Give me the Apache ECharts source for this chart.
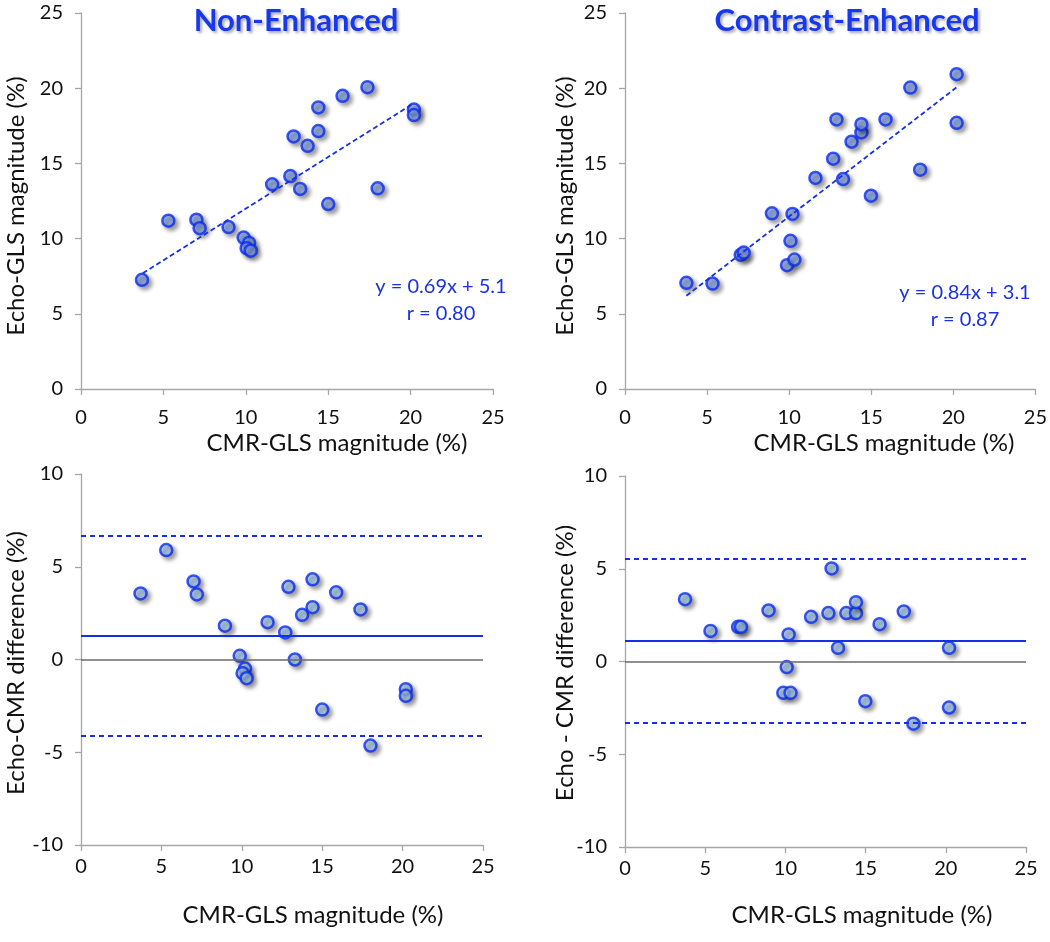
<!DOCTYPE html>
<html>
<head>
<meta charset="utf-8">
<script src="https://cdn.jsdelivr.net/npm/echarts@6.0.0/dist/echarts.min.js"></script>
<style>
  html, body { margin: 0; padding: 0; background: #fff; }
  #glsChart { width: 1050px; height: 942px; }
</style>
</head>
<body>
<div id="glsChart"></div>
<script>
// Non-enhanced echo vs CMR
const cmrNE = [3.7, 5.3, 7.0, 7.2, 8.95, 9.87, 10.2, 10.05, 10.3, 11.6, 12.7, 13.3, 12.9, 13.75, 14.4, 14.4, 15.0, 15.87, 17.38, 18.0, 20.2, 20.2];
const echoNE = [7.26, 11.19, 11.26, 10.69, 10.77, 10.07, 9.71, 9.36, 9.2, 13.61, 14.16, 13.3, 16.79, 16.17, 17.15, 18.72, 12.3, 19.49, 20.07, 13.34, 18.58, 18.21];
const diffNE = [3.56, 5.9, 4.21, 3.51, 1.82, 0.2, -0.49, -0.74, -1.01, 2.01, 1.46, 0.0, 3.92, 2.41, 2.82, 4.32, -2.7, 3.62, 2.7, -4.64, -1.6, -1.96];

// Contrast-enhanced echo vs CMR
const cmrCE = [3.74, 5.33, 7.05, 7.23, 8.95, 10.2, 10.08, 9.87, 10.32, 11.6, 12.68, 13.28, 12.88, 13.8, 14.4, 14.4, 14.98, 15.87, 17.38, 17.98, 20.2, 20.2];
const echoCE = [7.06, 7.01, 8.92, 9.07, 11.68, 11.64, 9.85, 8.23, 8.61, 14.03, 15.31, 13.96, 17.92, 16.44, 17.06, 17.61, 12.85, 17.92, 20.04, 14.58, 20.93, 17.7];
const diffCE = [3.36, 1.65, 1.87, 1.87, 2.75, 1.46, -0.3, -1.69, -1.69, 2.41, 2.61, 0.74, 5.02, 2.61, 2.61, 3.2, -2.14, 2.01, 2.7, -3.35, 0.74, -2.48];

// regression line end points
const trendNE = [[3.75, 7.7], [20.2, 19.0]];
const trendCE = [[3.74, 6.2], [20.25, 20.1]];

// Bland-Altman: [mean, upper LoA, lower LoA]
const baNE = [1.28, 6.65, -4.12];
const baCE = [1.13, 5.52, -3.29];

const panelTitles = ['Non-Enhanced', 'Contrast-Enhanced'];
const eqTexts = [['y = 0.69x + 5.1', 'r = 0.80'], ['y = 0.84x + 3.1', 'r = 0.87']];

const FONT = 'Lato, "Open Sans", sans-serif';
const BLUE = '#1430e6';
const EDGE = '#0a2cf0';

function pairs(xs, ys) {
  return xs.map((x, i) => [x, ys[i]]);
}

function markerStyle(fill) {
  return {
    color: fill,
    borderColor: EDGE,
    borderWidth: 2.5,
    shadowBlur: 4,
    shadowColor: 'rgba(0,0,0,0.45)',
    shadowOffsetX: 3,
    shadowOffsetY: 3
  };
}

function xAx(idx) {
  return {
    gridIndex: idx, type: 'value', min: 0, max: 25, interval: 5,
    splitLine: { show: false },
    axisLine: { onZero: false, lineStyle: { color: '#a6a6a6', width: 1.3 } },
    axisTick: { show: true, length: 6, lineStyle: { color: '#a6a6a6', width: 1.3 } },
    axisLabel: { color: '#111', fontFamily: FONT, fontSize: 20, margin: idx < 2 ? 19 : 12 }
  };
}

function yAx(idx, min, max) {
  return {
    gridIndex: idx, type: 'value', min: min, max: max, interval: 5,
    splitLine: { show: false },
    axisLine: { show: true, onZero: false, lineStyle: { color: '#a6a6a6', width: 1.3 } },
    axisTick: { show: true, length: 6, lineStyle: { color: '#a6a6a6', width: 1.3 } },
    axisLabel: { color: '#111', fontFamily: FONT, fontSize: 20, margin: 18 }
  };
}

function baLines(vals) {
  const dash = { color: BLUE, width: 2, type: [5, 4] };
  return {
    silent: true, symbol: 'none', label: { show: false },
    data: [
      { yAxis: 0, lineStyle: { color: '#6b6b6b', width: 1.6, type: 'solid' } },
      { yAxis: vals[0], lineStyle: { color: BLUE, width: 1.8, type: 'solid' } },
      { yAxis: vals[1], lineStyle: dash },
      { yAxis: vals[2], lineStyle: dash }
    ]
  };
}

const titleStyle = {
  color: '#1838ee', fontFamily: FONT, fontWeight: 'bold', fontSize: 31,
  textShadowColor: 'rgba(0,0,0,0.35)', textShadowBlur: 3, textShadowOffsetX: 2, textShadowOffsetY: 2
};

function label(text, x, y, rot) {
  return {
    type: 'text', x: x, y: y, rotation: rot || 0,
    style: { text: text, fill: '#111', font: '24px ' + FONT, textAlign: 'center', textVerticalAlign: 'middle' }
  };
}

function eq(lines, x, y) {
  return lines.map((t, i) => ({
    type: 'text', x: x, y: y + i * 27,
    style: { text: t, fill: '#1a33e0', font: '20px ' + FONT, textAlign: 'center', textVerticalAlign: 'middle' }
  }));
}

const myChart = echarts.init(document.getElementById('glsChart'));

const option = {
  backgroundColor: '#fff',
  animation: false,
  title: [
    { text: panelTitles[0], left: 291, top: 0, textAlign: 'center', textStyle: titleStyle },
    { text: panelTitles[1], left: 842, top: 0, textAlign: 'center', textStyle: titleStyle }
  ],
  grid: [
    { left: 81, top: 13, width: 412, height: 376 },
    { left: 625, top: 13, width: 412, height: 376 },
    { left: 81, top: 474, width: 402, height: 371 },
    { left: 625, top: 476, width: 401, height: 371 }
  ],
  xAxis: [xAx(0), xAx(1), xAx(2), xAx(3)],
  yAxis: [yAx(0, 0, 25), yAx(1, 0, 25), yAx(2, -10, 10), yAx(3, -10, 10)],
  series: [
    {
      type: 'line', xAxisIndex: 0, yAxisIndex: 0, data: trendNE, symbol: 'none', silent: true,
      lineStyle: { color: BLUE, width: 1.8, type: [5, 3] }
    },
    {
      type: 'scatter', xAxisIndex: 0, yAxisIndex: 0, data: pairs(cmrNE, echoNE),
      symbol: 'circle', symbolSize: 12, itemStyle: markerStyle('#8ba7ea')
    },
    {
      type: 'line', xAxisIndex: 1, yAxisIndex: 1, data: trendCE, symbol: 'none', silent: true,
      lineStyle: { color: BLUE, width: 1.8, type: [5, 3] }
    },
    {
      type: 'scatter', xAxisIndex: 1, yAxisIndex: 1, data: pairs(cmrCE, echoCE),
      symbol: 'circle', symbolSize: 12, itemStyle: markerStyle('#8ba7ea')
    },
    {
      type: 'scatter', xAxisIndex: 2, yAxisIndex: 2, data: pairs(cmrNE, diffNE),
      symbol: 'circle', symbolSize: 12, itemStyle: markerStyle('#a9cdf3'),
      markLine: baLines(baNE)
    },
    {
      type: 'scatter', xAxisIndex: 3, yAxisIndex: 3, data: pairs(cmrCE, diffCE),
      symbol: 'circle', symbolSize: 12, itemStyle: markerStyle('#a9cdf3'),
      markLine: baLines(baCE)
    }
  ],
  graphic: [
    label('Echo-GLS magnitude (%)', 16, 206, Math.PI / 2),
    label('Echo-GLS magnitude (%)', 565, 206, Math.PI / 2),
    label('Echo-CMR difference (%)', 16, 663, Math.PI / 2),
    label('Echo - CMR difference (%)', 565, 663, Math.PI / 2),
    label('CMR-GLS magnitude (%)', 337, 443),
    label('CMR-GLS magnitude (%)', 884, 443),
    label('CMR-GLS magnitude (%)', 313, 915),
    label('CMR-GLS magnitude (%)', 862, 915)
  ].concat(eq(eqTexts[0], 441, 287), eq(eqTexts[1], 965, 293))
};

myChart.setOption(option);
</script>
</body>
</html>
